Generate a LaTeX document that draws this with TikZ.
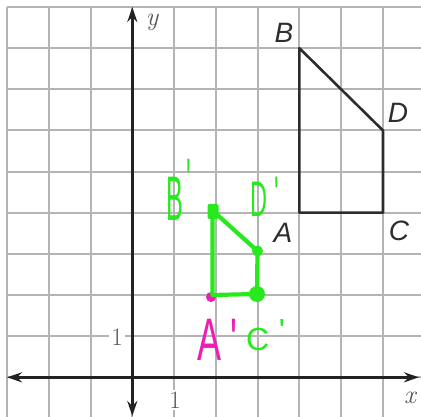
\documentclass[tikz,border=0pt]{standalone}
\usepackage{fontspec}
\newfontfamily\helv{Liberation Sans}
\usetikzlibrary{arrows.meta}
\definecolor{gridgray}{RGB}{180,180,180}
\definecolor{axisdark}{RGB}{34,34,34}
\definecolor{figdark}{RGB}{45,45,45}
\definecolor{labgray}{RGB}{85,85,85}
\definecolor{hgreen}{RGB}{40,232,30}
\definecolor{hpink}{RGB}{236,30,180}
\begin{document}
\begin{tikzpicture}[x=1pt,y=-1pt,
  gridline/.style={draw=gridgray,line width=2pt},
  axisline/.style={draw=axisdark,line width=3pt,
    {Stealth[length=15pt,width=10pt]}-{Stealth[length=15pt,width=10pt]}},
  figline/.style={draw=figdark,line width=2.6pt,line join=round},
  axlab/.style={text=labgray,font=\fontsize{26}{26}\selectfont\itshape,inner sep=0pt},
  numlab/.style={text=labgray,font=\fontsize{25}{25}\selectfont,fill=white,inner sep=2pt},
  ptlab/.style={text=figdark,font=\helv\itshape\fontsize{28}{28}\selectfont,inner sep=0pt},
  handline/.style={draw=hgreen,line width=4.2pt,line join=round,line cap=round},
  hand/.style={text=hgreen,inner sep=0pt,anchor=base west}]
\useasboundingbox (0,0) rectangle (421,417);
\fill[white] (0,0) rectangle (421,417);
% grid
\foreach \i in {0,...,9}
  \draw[gridline] ({7+41.78*\i},7) -- ({7+41.78*\i},417);
\foreach \j in {0,...,9}
  \draw[gridline] (7,{7+41.14*\j}) -- (421,{7+41.14*\j});
% axis labels
\node[numlab] (one-y) at (117,337) {1};
\node[numlab] (one-x) at (175,400) {1};
\node[axlab] (ylab) at (152,22) {y};
\node[axlab] (xlab) at (410,398) {x};
% axes
\coordinate (yb) at (132.3,416);
\coordinate (yt) at (132.3,7);
\coordinate (xl) at (7,377.3);
\coordinate (xr) at (419,377.3);
\draw[axisline] (yb) -- (yt);
\draw[axisline] (xl) -- (xr);
% figure ABCD
\coordinate (A) at (299.4,212.7);
\coordinate (B) at (299.4,48.2);
\coordinate (C) at (383,212.7);
\coordinate (D) at (383,130.5);
\draw[figline] (B) -- (D) -- (C) -- (A) -- cycle;
\node[ptlab] (Blab) at (284,33) {B};
\node[ptlab] (Dlab) at (398,113) {D};
\node[ptlab] (Alab) at (283,233) {A};
\node[ptlab] (Clab) at (399,231) {C};
% hand-drawn image
\coordinate (Bp) at (212.5,210.5);
\coordinate (Ap) at (212.5,295);
\coordinate (Cp) at (257,294);
\coordinate (Dp) at (257.5,251);
\fill[hpink] (211,297) circle (5);
\draw[handline] (Bp) -- (Ap) -- (Cp) -- (Dp) -- (Bp);
\fill[hgreen,rounded corners=2pt] (207.5,204) rectangle (218.5,219);
\fill[hgreen] (Dp) circle (5.5);
\fill[hgreen] (Cp) circle (8);
\node[hand,xscale=0.4,font=\helv\fontsize{63}{63}\selectfont] (Bplab) at (166,221) {B\kern.15em\raisebox{.3em}{'}};
\node[hand,xscale=0.47,font=\helv\fontsize{50}{50}\selectfont] (Dplab) at (250,217) {D\kern.3em\raisebox{.1em}{'}};
\node[hand,xscale=0.6,text=hpink,font=\helv\fontsize{60}{60}\selectfont] (Aplab) at (197,360) {A\kern.25em'};
\node[hand,font=\helv\fontsize{32}{32}\selectfont] (Cplab) at (246,350) {C\kern.3em\raisebox{.28em}{'}};
\end{tikzpicture}
\end{document}
